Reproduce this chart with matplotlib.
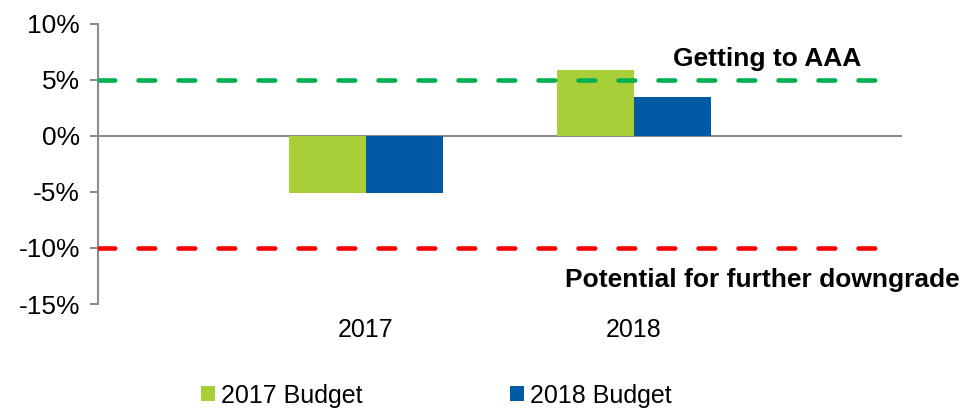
import matplotlib
matplotlib.use("Agg")
import matplotlib.pyplot as plt
import numpy as np
from matplotlib.ticker import FuncFormatter

categories = ["2017", "2018"]
budget_2017 = [-5.1, 5.9]
budget_2018 = [-5.1, 3.5]
series_names = ["2017 Budget", "2018 Budget"]
aaa_level = 5
downgrade_level = -10
y_ticks = [10, 5, 0, -5, -10, -15]

plt.rcParams['font.family'] = ['Liberation Sans', 'DejaVu Sans']

fig = plt.figure(figsize=(9.68, 4.08), dpi=100)
ax = fig.add_axes([0.1012, 0.2549, 0.8306, 0.6863])

x = np.arange(len(categories))
w = 0.287
ax.bar(x - w / 2, budget_2017, width=w, color="#A9CF38", label=series_names[0], zorder=2)
ax.bar(x + w / 2, budget_2018, width=w, color="#005AA5", label=series_names[1], zorder=2)

lw = 3.3
dash = (0, (12.0 / lw, 16.8 / lw))
ax.axhline(aaa_level, xmin=0, xmax=0.976, color="#00B050", lw=lw, linestyle=dash,
           dash_capstyle="round", zorder=3)
ax.axhline(downgrade_level, xmin=0, xmax=0.976, color="#FF0000", lw=lw, linestyle=dash,
           dash_capstyle="round", zorder=3)
ax.axhline(0, color="#8C8C8C", lw=1.5, zorder=1)

ax.text(1.496, 6.9, "Getting to AAA", fontsize=19, fontweight="bold",
        ha="center", va="center")
ax.text(1.48, -12.9, "Potential for further downgrade", fontsize=19, fontweight="bold",
        ha="center", va="center")

ax.set_xlim(-1, 2)
ax.set_ylim(-15, 10)
ax.set_yticks(y_ticks)
ax.yaxis.set_major_formatter(FuncFormatter(lambda v, p: f"{int(v)}%"))
ax.tick_params(axis="y", labelsize=19, length=6, width=1.5, color="#8C8C8C", pad=7)
ax.set_xticks(x)
ax.set_xticklabels(categories)
ax.tick_params(axis="x", length=0, labelsize=18, pad=10)

for s in ["top", "right", "bottom"]:
    ax.spines[s].set_visible(False)
ax.spines["left"].set_color("#8C8C8C")
ax.spines["left"].set_linewidth(1.5)

leg = fig.legend(loc="center", bbox_to_anchor=(0.451, 0.03), ncol=2, frameon=False,
                 fontsize=18, handlelength=0.55, handleheight=0.55, handletextpad=0.25,
                 columnspacing=5.9)

fig.savefig("out.png", dpi=100)
